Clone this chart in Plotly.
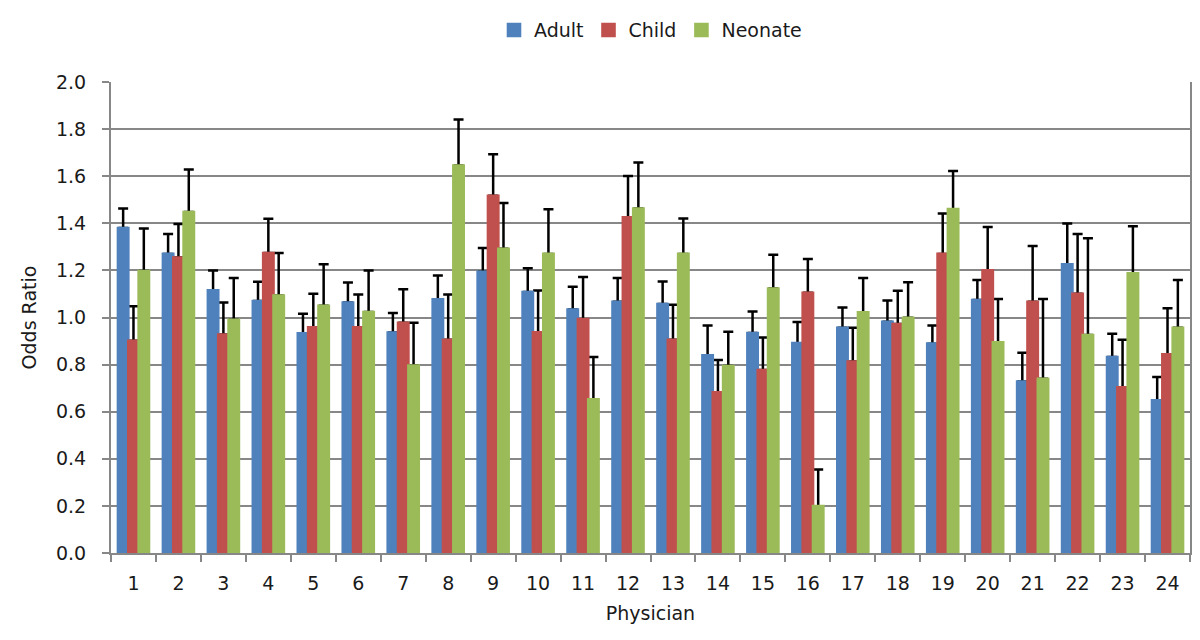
import plotly.graph_objects as go

physicians = [str(i) for i in range(1, 25)]

adult = [1.38, 1.27, 1.115, 1.07, 0.933, 1.064, 0.936, 1.077, 1.194, 1.108, 1.034, 1.067,
         1.057, 0.839, 0.934, 0.891, 0.956, 0.982, 0.889, 1.074, 0.728, 1.226, 0.832, 0.648]
adult_upper = [1.463, 1.355, 1.20, 1.152, 1.016, 1.149, 1.019, 1.178, 1.295, 1.209, 1.131, 1.168,
               1.153, 0.966, 1.026, 0.981, 1.042, 1.072, 0.966, 1.159, 0.850, 1.399, 0.931, 0.747]

child = [0.901, 1.255, 0.928, 1.274, 0.958, 0.958, 0.978, 0.905, 1.517, 0.937, 0.993, 1.425,
         0.905, 0.682, 0.777, 1.105, 0.813, 0.972, 1.270, 1.20, 1.067, 1.101, 0.704, 0.844]
child_upper = [1.048, 1.397, 1.064, 1.419, 1.101, 1.098, 1.12, 1.098, 1.693, 1.115, 1.172, 1.601,
               1.054, 0.820, 0.915, 1.248, 0.956, 1.114, 1.442, 1.384, 1.304, 1.355, 0.905, 1.039]

neonate = [1.197, 1.448, 0.990, 1.093, 1.050, 1.023, 0.796, 1.645, 1.292, 1.270, 0.653, 1.463,
           1.270, 0.794, 1.123, 0.199, 1.022, 0.999, 1.460, 0.895, 0.740, 0.926, 1.188, 0.956]
neonate_upper = [1.378, 1.628, 1.168, 1.274, 1.226, 1.20, 0.978, 1.841, 1.486, 1.460, 0.832, 1.658,
                 1.420, 0.939, 1.266, 0.355, 1.168, 1.150, 1.622, 1.079, 1.079, 1.337, 1.388, 1.159]

series = [
    ("Adult", adult, adult_upper, "#4F81BD"),
    ("Child", child, child_upper, "#C0504D"),
    ("Neonate", neonate, neonate_upper, "#9BBB59"),
]

FONT = "'DejaVu Sans', sans-serif"
GRID = "#878787"

fig = go.Figure()
# error bars (plus direction only) carried by transparent bars drawn underneath
for name, vals, upper, color in series:
    plus = [u - v for u, v in zip(upper, vals)]
    fig.add_trace(go.Bar(
        name=name + " error", x=physicians, y=vals, offsetgroup=name,
        marker=dict(color="rgba(0,0,0,0)", line=dict(width=0)),
        showlegend=False, hoverinfo="skip",
        error_y=dict(type="data", symmetric=False, array=plus,
                     arrayminus=[0] * len(plus), color="black",
                     thickness=2.5, width=5),
    ))
# visible bars on top
for name, vals, upper, color in series:
    fig.add_trace(go.Bar(
        name=name, x=physicians, y=vals, offsetgroup=name,
        marker=dict(color=color, line=dict(color=color, width=2.6)),
    ))

fig.update_layout(
    width=1200, height=640,
    barmode="group", bargap=0.31, bargroupgap=0,
    plot_bgcolor="white", paper_bgcolor="white",
    margin=dict(l=103, r=18, t=74, b=95, autoexpand=False),
    font=dict(family=FONT, size=19, color="#1a1a1a"),
    legend=dict(orientation="h", x=0.5, xanchor="center", y=1.11, yanchor="middle",
                font=dict(size=19), traceorder="normal", itemwidth=30),
)
fig.update_xaxes(
    type="category",
    title=dict(text="Physician", font=dict(size=19), standoff=14),
    showline=True, linecolor=GRID, linewidth=2,
    ticks="outside", tickson="boundaries", ticklen=7, tickcolor=GRID, tickwidth=2,
    ticklabelstandoff=12,
    showgrid=False, automargin=False,
)
fig.update_yaxes(
    range=[0, 2.0], dtick=0.2, tickformat=".1f",
    title=dict(text="Odds Ratio", font=dict(size=19), standoff=14),
    showline=True, linecolor=GRID, linewidth=2, mirror=True,
    ticks="outside", ticklen=7, tickcolor=GRID, tickwidth=2,
    ticklabelstandoff=12,
    showgrid=True, gridcolor=GRID, gridwidth=2,
    zeroline=False, automargin=False,
)

fig.write_html("out.html")
